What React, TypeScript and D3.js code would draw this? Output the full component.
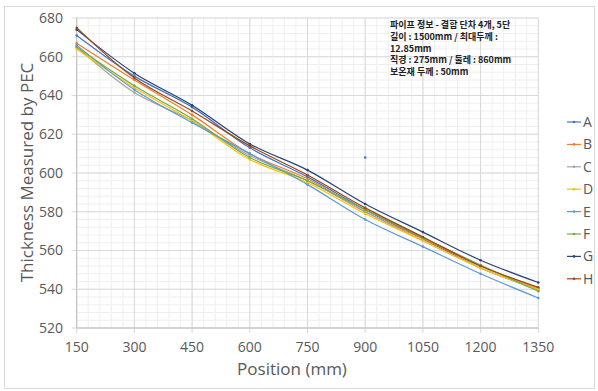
import React from "react";
import * as d3 from "d3";

const positions = [150, 300, 450, 600, 750, 900, 1050, 1200, 1350];
const seriesNames = ["A", "B", "C", "D", "E", "F", "G", "H"];
const seriesColors = ["#4472C4", "#ED7D31", "#A5A5A5", "#FFC000", "#5B9BD5", "#70AD47", "#264478", "#9E480E"];
const valuesA = [671, 650, 634, 613, 598, 581, 566, 551, 540];
const valuesB = [667, 648, 630, 610, 597, 580, 566, 552, 540.5];
const valuesC = [665, 641.5, 627, 609, 596, 580, 565, 551, 539.5];
const valuesD = [664, 644, 627, 607, 595, 579, 565, 551, 540];
const valuesE = [666, 643, 626, 610, 594, 576, 562, 548, 535.5];
const valuesF = [665, 645, 628, 608, 596, 581, 566.5, 552.5, 539];
const valuesG = [674, 651.5, 635, 615, 601.5, 584, 569.5, 555, 543.5];
const valuesH = [675, 649, 632, 614, 599, 582, 567, 552, 541];
const allValues = [valuesA, valuesB, valuesC, valuesD, valuesE, valuesF, valuesG, valuesH];
const strayX = [900];
const strayY = [608];
const yTicks = [520, 540, 560, 580, 600, 620, 640, 660, 680];
const infoLines = [
  "파이프 정보 - 결함 단차 4개, 5단",
  "길이 : 1500mm  / 최대두께 :",
  "12.85mm",
  "직경 : 275mm  /  둘레 : 860mm",
  "보온재 두께 : 50mm",
];

export default function App() {
  const W = 598, H = 391;
  const x = d3.scaleLinear().domain([150, 1350]).range([76.7, 538.3]);
  const y = d3.scaleLinear().domain([520, 680]).range([328, 18]);
  const minorX = d3.range(150, 1350.1, 30);
  const minorY = d3.range(520, 680.1, 4);
  const line = d3
    .line<number>()
    .x((_, i) => x(positions[i]))
    .y((v) => y(v))
    .curve(d3.curveCatmullRom.alpha(0.5));
  const font = "'Open Sans', 'Noto Sans', sans-serif";
  const textColor = "#595959";
  return (
    <svg width={W} height={H} style={{ position: "absolute", left: 0, top: 0, background: "#fff" }}>
      <rect x={4.5} y={6.5} width={590} height={382} fill="#fff" stroke="#d9d9d9" />
      {minorX.map((v) => (
        <line key={"mx" + v} x1={x(v)} x2={x(v)} y1={y(680)} y2={y(520)} stroke="#efefef" strokeWidth={1} />
      ))}
      {minorY.map((v) => (
        <line key={"my" + v} x1={x(150)} x2={x(1350)} y1={y(v)} y2={y(v)} stroke="#efefef" strokeWidth={1} />
      ))}
      {positions.map((v) => (
        <line key={"gx" + v} x1={x(v)} x2={x(v)} y1={y(680)} y2={y(520) + 5} stroke="#d9d9d9" strokeWidth={1} />
      ))}
      {yTicks.map((v) => (
        <line key={"gy" + v} x1={x(150) - 5} x2={x(1350)} y1={y(v)} y2={y(v)} stroke="#d9d9d9" strokeWidth={1} />
      ))}
      <line x1={x(150)} x2={x(1350)} y1={y(520)} y2={y(520)} stroke="#bfbfbf" />
      <line x1={x(150)} x2={x(150)} y1={y(680)} y2={y(520)} stroke="#bfbfbf" />
      {yTicks.map((v) => (
        <text key={"ty" + v} x={63} y={y(v)} dy="0.35em" textAnchor="end" fontFamily={font} fontSize={14} fill={textColor}>
          {v}
        </text>
      ))}
      {positions.map((v) => (
        <text key={"tx" + v} x={x(v)} y={352} textAnchor="middle" fontFamily={font} fontSize={14} fill={textColor}>
          {v}
        </text>
      ))}
      <text x={292} y={375} textAnchor="middle" fontFamily={font} fontSize={17} fill={textColor}>
        Position (mm)
      </text>
      <text
        transform={`translate(33,${(63 + 282) / 2}) rotate(-90)`}
        textAnchor="middle"
        fontFamily={font}
        fontSize={17}
        fill={textColor}
      >
        Thickness Measured by PEC
      </text>
      {allValues.map((vals, si) => (
        <g key={"s" + si}>
          <path d={line(vals) || ""} fill="none" stroke={seriesColors[si]} strokeWidth={1.2} />
          {vals.map((v, i) => (
            <circle key={i} cx={x(positions[i])} cy={y(v)} r={1.3} fill={seriesColors[si]} />
          ))}
        </g>
      ))}
      {strayX.map((v, i) => (
        <circle key={"st" + i} cx={x(v)} cy={y(strayY[i])} r={1.3} fill={seriesColors[0]} />
      ))}
      {infoLines.map((t, i) => (
        <text key={"info" + i} x={390} y={28 + i * 11.8} fontFamily="'Noto Sans CJK KR', sans-serif" fontSize={9} fontWeight="bold" fill="#222">
          {t}
        </text>
      ))}
      {seriesNames.map((n, i) => {
        const ly = 122 + i * 22.4;
        return (
          <g key={"lg" + n}>
            <line x1={567} x2={581} y1={ly} y2={ly} stroke={seriesColors[i]} strokeWidth={1.2} />
            <circle cx={574} cy={ly} r={1.3} fill={seriesColors[i]} />
            <text x={583} y={ly} dy="0.35em" fontFamily={font} fontSize={14} fill={textColor}>
              {n}
            </text>
          </g>
        );
      })}
    </svg>
  );
}
